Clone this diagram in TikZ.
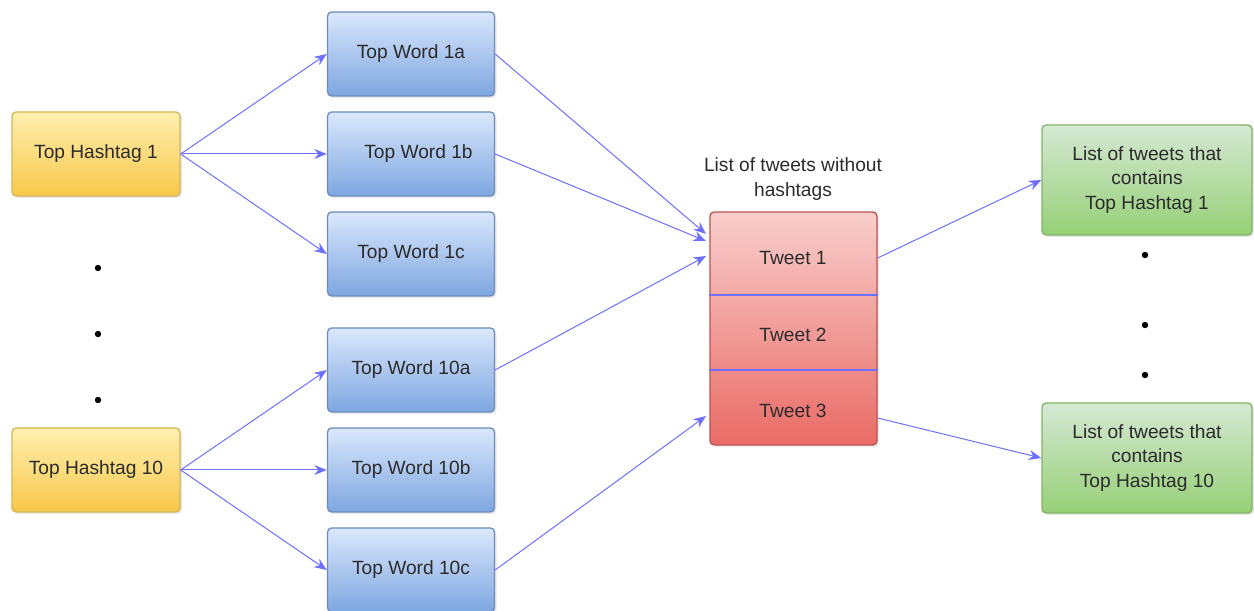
\documentclass[tikz,border=0pt]{standalone}
\usepackage{fontspec}
\setmainfont{Liberation Sans}
\usetikzlibrary{arrows.meta,shadows}

\definecolor{txtgray}{HTML}{2B2B2B}
\definecolor{arrowblue}{HTML}{6E6EFF}
\definecolor{hashtop}{HTML}{FFEFB0}
\definecolor{hashbot}{HTML}{F7C84A}
\definecolor{hashline}{HTML}{D6B656}
\definecolor{wordtop}{HTML}{DAE8FC}
\definecolor{wordbot}{HTML}{7EA6E0}
\definecolor{wordline}{HTML}{6C8EBF}
\definecolor{tweettop}{HTML}{F8CECC}
\definecolor{tweetbot}{HTML}{EA6B66}
\definecolor{tweetline}{HTML}{B85450}
\definecolor{listtop}{HTML}{D5E8D4}
\definecolor{listbot}{HTML}{97D077}
\definecolor{listline}{HTML}{82B366}

\tikzset{
  box/.style={rectangle, rounded corners=2.5pt, line width=0.8pt, inner sep=0pt,
    align=center, text=txtgray, font=\fontsize{11.5}{14.6}\selectfont,
    drop shadow={opacity=0.18, shadow xshift=1.2pt, shadow yshift=-1.2pt}},
  hashbox/.style={box, draw=hashline, top color=hashtop, bottom color=hashbot,
    minimum width=168*0.6pt, minimum height=84*0.6pt},
  wordbox/.style={box, draw=wordline, top color=wordtop, bottom color=wordbot,
    minimum width=167*0.6pt, minimum height=84*0.6pt},
  tweetbox/.style={box, draw=tweetline, top color=tweettop, bottom color=tweetbot,
    minimum width=167*0.6pt, minimum height=233*0.6pt},
  listbox/.style={box, draw=listline, top color=listtop, bottom color=listbot,
    minimum width=210*0.6pt, minimum height=110*0.6pt},
  plain/.style={inner sep=0pt, align=center, text=txtgray, font=\fontsize{11.5}{14.6}\selectfont},
  link/.style={draw=arrowblue, line width=0.6pt, -{Stealth[length=7.5pt,width=6pt]}},
  divider/.style={draw=arrowblue, line width=0.7pt},
  dot/.style={fill=black}
}

\begin{document}
\begin{tikzpicture}[x=0.6pt,y=-0.6pt]
\useasboundingbox (0,0) rectangle (1254,611);

% Hashtags on the left
\node[hashbox] (h1)  at (96,154) {Top Hashtag 1};
\node[hashbox] (h10) at (96,470) {Top Hashtag 10};
\foreach \y in {268,334,400}
  \fill[dot] (98,\y) circle (3.2);

% Top words for each hashtag
\node[wordbox] (w1a)  at (411,54)  {Top Word 1a};
\node[wordbox] (w1b)  at (411,154) {\hspace*{9pt}Top Word 1b};
\node[wordbox] (w1c)  at (411,254) {Top Word 1c};
\node[wordbox] (w10a) at (411,370) {Top Word 10a};
\node[wordbox] (w10b) at (411,470) {Top Word 10b};
\node[wordbox] (w10c) at (411,570) {Top Word 10c};

% List of tweets in the middle
\node[plain] (cap) at (793,179) {List of tweets without\\hashtags};
\node[tweetbox] (tw) at (793.5,328.5) {};
\node[plain] (t1) at (793,258) {Tweet 1};
\node[plain] (t2) at (793,335) {Tweet 2};
\node[plain] (t3) at (793,411) {Tweet 3};
\draw[divider] (tw.west |- 0,295) -- (tw.east |- 0,295);
\draw[divider] (tw.west |- 0,370) -- (tw.east |- 0,370);

% Entry points on the tweet list
\coordinate (in1) at (706,234);
\coordinate (in2) at (706,241);
\coordinate (in3) at (706,256);
\coordinate (in4) at (706,416);

% Resulting lists on the right
\node[listbox] (l1)  at (1147,180) {List of tweets that\\contains\\Top Hashtag 1};
\node[listbox] (l10) at (1147,458) {List of tweets that\\contains\\Top Hashtag 10};
\foreach \y in {255,325,375}
  \fill[dot] (1145,\y) circle (3.2);

% Hashtag to word arrows
\foreach \w in {w1a,w1b,w1c}
  \draw[link] (h1.east) -- (\w.west);
\foreach \w in {w10a,w10b,w10c}
  \draw[link] (h10.east) -- (\w.west);

% Word to tweet arrows
\draw[link] (w1a.east)  -- (in1);
\draw[link] (w1b.east)  -- (in2);
\draw[link] (w10a.east) -- (in3);
\draw[link] (w10c.east) -- (in4);

% Tweet to list arrows
\draw[link] (tw.east |- t1) -- (l1.west);
\draw[link] (tw.east |- 0,418) -- (l10.west);

\end{tikzpicture}
\end{document}
